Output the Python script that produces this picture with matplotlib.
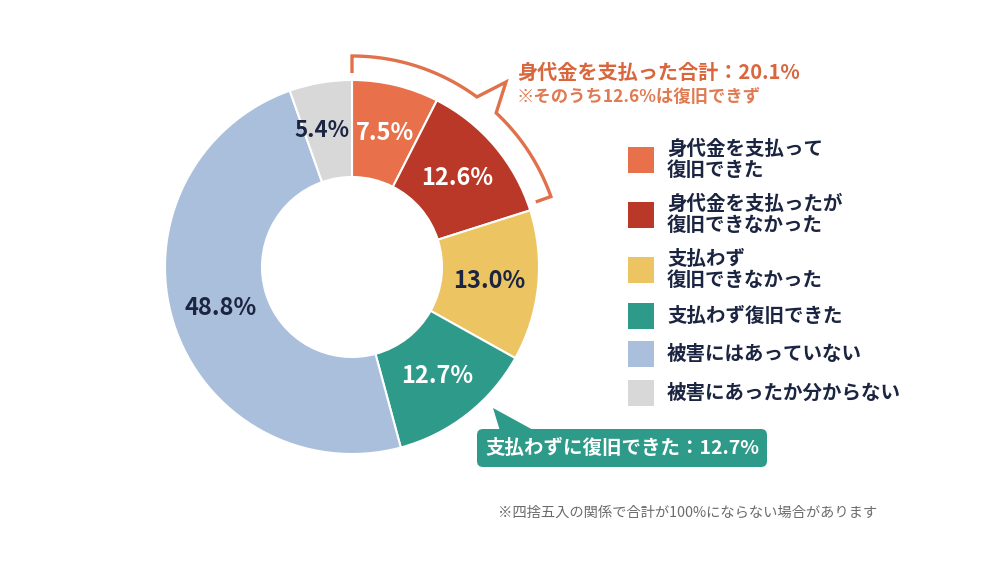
import matplotlib
matplotlib.use('Agg')
import matplotlib.pyplot as plt
import numpy as np
from matplotlib.patches import Rectangle, FancyBboxPatch, Polygon

# ---- data ----
categories = ["身代金を支払って\n復旧できた",
              "身代金を支払ったが\n復旧できなかった",
              "支払わず\n復旧できなかった",
              "支払わず復旧できた",
              "被害にはあっていない",
              "被害にあったか分からない"]
values = [7.5, 12.6, 13.0, 12.7, 48.8, 5.4]
colors = ["#E8714B", "#B93828", "#ECC462", "#2E9A89", "#AABFDB", "#D8D8D8"]
label_colors = ["white", "white", "#1B2440", "white", "#1B2440", "#1B2440"]

paid_total_text = "身代金を支払った合計：20.1%"
paid_note_text = "※そのうち12.6%は復旧できず"
callout_text = "支払わずに復旧できた：12.7%"
footnote_text = "※四捨五入の関係で合計が100%にならない場合があります"

plt.rcParams['font.family'] = ['Noto Sans CJK JP', 'DejaVu Sans']

W, H = 1000, 562
fig = plt.figure(figsize=(10, 5.62), dpi=100)
ax = fig.add_axes([0, 0, 1, 1])


def Y(y):
    return H - y


cx, cy = 352, Y(267)
R_out, R_in = 187, 90

wedges, texts, autotexts = ax.pie(
    values, colors=colors, startangle=90, counterclock=False,
    center=(cx, cy), radius=R_out, autopct='%.1f%%',
    pctdistance=138 / 187,
    wedgeprops=dict(width=R_out - R_in, edgecolor='white', linewidth=1.5),
    textprops=dict(fontsize=17, fontweight='bold'))
for t, c in zip(autotexts, label_colors):
    t.set_color(c)
# small label nudges so the two narrow top slices' labels don't collide
x0, y0 = autotexts[0].get_position()
autotexts[0].set_position((x0 + 1, y0))
x5, y5 = autotexts[5].get_position()
autotexts[5].set_position((x5 - 7, y5))
autotexts[5].set_fontsize(16)

ax.set_xlim(0, W)
ax.set_ylim(0, H)
ax.set_aspect('equal')
ax.axis('off')


# ---- bracket for paid total ----
def polar(a_deg, r):
    a = np.radians(a_deg)
    return cx + r * np.cos(a), cy + r * np.sin(a)


Rb = 211
pts = [polar(90, 194)]
for a in np.linspace(90, 53.7, 60):
    pts.append(polar(a, Rb))
pts.append((506, Y(82)))
for a in np.linspace(46.9, 19.5, 50):
    pts.append(polar(a, Rb))
pts.append(polar(19.5, 195))
pts = np.array(pts)
ax.plot(pts[:, 0], pts[:, 1], color="#E0714A", lw=2.4,
        solid_joinstyle='miter', solid_capstyle='butt')

ax.text(517, Y(72), paid_total_text, fontsize=14.5, fontweight='bold',
        color="#D9663D", ha='left', va='center')
ax.text(517, Y(97), paid_note_text, fontsize=12.5, fontweight='bold',
        color="#E07A52", ha='left', va='center')

# ---- legend ----
leg_y = [160, 215, 270, 316, 354, 393]
for lab, col, y in zip(categories, colors, leg_y):
    ax.add_patch(Rectangle((628, Y(y) - 13), 26, 26, facecolor=col,
                           edgecolor='none'))
    ax.text(667, Y(y), lab, fontsize=14, fontweight='bold', color='#1B2440',
            va='center', ha='left', linespacing=1.1)

# ---- teal callout ----
teal = "#2E9A89"
ax.add_patch(Polygon([(493, Y(408)), (500, Y(431)), (535, Y(431))],
                     closed=True, facecolor=teal, edgecolor='none'))
ax.add_patch(FancyBboxPatch((477, Y(467)), 290, 38,
                            boxstyle="round,pad=0,rounding_size=6",
                            facecolor=teal, edgecolor='none'))
ax.text(622, Y(448), callout_text, fontsize=14, fontweight='bold',
        color='white', ha='center', va='center')

# ---- footnote ----
ax.text(498, Y(513), footnote_text, fontsize=10.3, color='#6B6B6B',
        ha='left', va='center')

fig.savefig('out.png', dpi=100)
